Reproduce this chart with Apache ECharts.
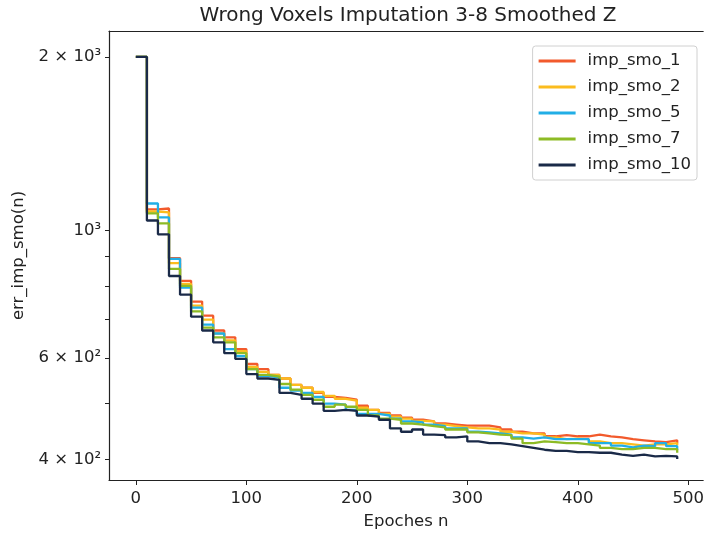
<!DOCTYPE html>
<html><head><meta charset="utf-8">
<script src="https://cdn.jsdelivr.net/npm/echarts@6/dist/echarts.min.js"></script>
<style>html,body{margin:0;padding:0;background:#fff}#c{width:707px;height:535px}</style>
</head><body><div id="c"></div>
<script>
const epochs = [0,10,20,30,40,50,60,70,80,90,100,110,120,130,140,150,160,170,180,190,200,210,220,230,240,250,260,270,280,290,300,310,320,330,340,350,360,370,380,390,400,410,420,430,440,450,460,470,480,490];
const seriesNames = ['imp_smo_1','imp_smo_2','imp_smo_5','imp_smo_7','imp_smo_10'];
const impSmo1 = [2000,1087,1091,895,817,752,711,670,652,622,586,574,561,553,539,533,522,514,512,508,496,488,482,477,473,469,466,462,460,458,458,458,455,451,447,444,444,439,441,439,439,442,439,437,434,432,430,429,432,427];
const impSmo2 = [2000,1078,1074,877,807,740,700,662,644,617,579,568,561,553,539,533,524,516,510,506,492,488,480,475,471,467,466,460,457,455,453,453,451,447,444,444,442,437,434,435,434,430,427,427,425,423,425,425,427,423];
const impSmo5 = [2000,1113,1053,892,795,734,686,662,622,605,574,559,555,533,527,522,514,500,498,488,480,480,477,471,466,464,460,457,453,453,447,446,444,442,437,435,437,434,434,434,434,427,427,423,420,423,422,427,422,416];
const impSmo7 = [2000,1070,1028,857,801,723,678,652,639,612,574,561,557,541,529,518,508,494,498,494,488,477,471,469,462,460,457,455,451,451,446,444,442,441,435,427,430,429,427,427,425,423,419,417,417,419,419,417,417,411];
const impSmo10 = [2000,1040,984,833,773,708,670,639,612,598,563,553,550,522,518,510,500,486,488,486,477,475,469,453,447,451,442,441,437,439,430,427,427,425,422,419,416,414,414,412,412,411,411,408,406,408,405,406,405,401];
const xTicks = [0,100,200,300,400,500];
const yTicks = [400,500,600,700,800,900,1000,2000];
const yLabelTicks = [400,600,1000,2000];
const yLabelText = {400:'4 × 10²',600:'6 × 10²',1000:'10³',2000:'2 × 10³'};
const colors = ['#f25a2c','#fbbc1e','#21aee6','#8dbb25','#1a2a48'];
const allVals = [impSmo1, impSmo2, impSmo5, impSmo7, impSmo10];

const FONT = 'DejaVu Sans';
const XMIN = -24.3, XMAX = 513.5;
const chart = echarts.init(document.getElementById('c'), null, {renderer:'canvas'});
chart.setOption({
  animation:false,
  backgroundColor:'#fff',
  textStyle:{fontFamily:FONT},
  title:{text:'Wrong Voxels Imputation 3-8 Smoothed Z', left:408, textAlign:'center', top:6, padding:0,
    textStyle:{fontFamily:FONT, fontSize:20, fontWeight:'normal', color:'#222'}},
  grid:{left:109, right:0, top:31, bottom:51, show:false, containLabel:false},
  legend:{orient:'vertical', right:10, top:46, padding:[6,6,6,6], itemWidth:37, itemHeight:3, itemGap:8,
    icon:'rect', backgroundColor:'rgba(255,255,255,0.85)', borderColor:'#d0d0d0', borderWidth:1, borderRadius:3,
    textStyle:{fontFamily:FONT, fontSize:16.5, color:'#222', padding:[0,0,0,7], lineHeight:18},
    data:seriesNames},
  xAxis:[{type:'value', min:XMIN, max:XMAX, name:'Epoches n', nameLocation:'middle', nameGap:33,
    nameTextStyle:{fontFamily:FONT, fontSize:16.5, color:'#222'},
    axisLine:{show:true, onZero:false, lineStyle:{color:'#222', width:1.2}},
    axisTick:{show:true, length:5, customValues:xTicks, lineStyle:{color:'#222'}},
    axisLabel:{customValues:xTicks, fontFamily:FONT, fontSize:16.5, color:'#222', margin:10},
    splitLine:{show:false}},
   {type:'value', position:'top', min:XMIN, max:XMAX,
    axisLine:{show:true, onZero:false, lineStyle:{color:'#222', width:1.2}},
    axisTick:{show:false}, axisLabel:{show:false}, splitLine:{show:false}}],
  yAxis:{type:'log', logBase:10, min:368.6, max:2218, name:'err_imp_smo(n)', nameLocation:'middle', nameGap:74,
    nameTextStyle:{fontFamily:FONT, fontSize:16.5, color:'#222'},
    axisLine:{show:true, onZero:false, lineStyle:{color:'#222', width:1.2}},
    axisTick:{show:true, length:4, customValues:yTicks, lineStyle:{color:'#222'}},
    axisLabel:{customValues:yLabelTicks, fontFamily:FONT, fontSize:16.5, color:'#222', margin:8,
      formatter:function(v){ const k = Math.round(v); return yLabelText[k] !== undefined ? yLabelText[k] : ''; }},
    splitLine:{show:false}, minorTick:{show:false}},
  series: seriesNames.map((n,i)=>({
    name:n, type:'line', step:'end', showSymbol:false, symbol:'none', xAxisIndex:0,
    lineStyle:{width:2.3, color:colors[i]}, itemStyle:{color:colors[i]},
    data: epochs.map((e,j)=>[e, allVals[i][j]])
  }))
});
</script></body></html>
